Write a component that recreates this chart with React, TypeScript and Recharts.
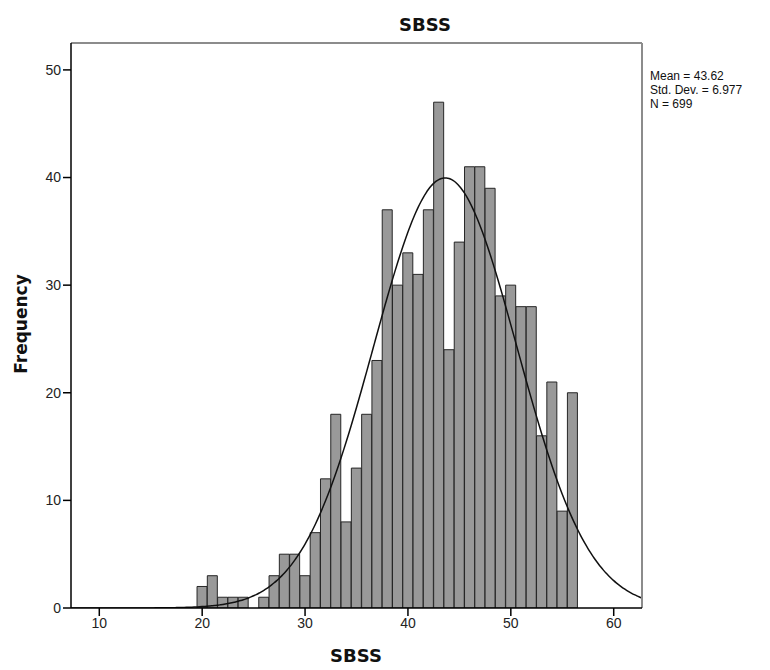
import { Bar, ComposedChart, Line, ReferenceLine, XAxis, YAxis } from "recharts"

// SBSS score bins (width 1) and how many respondents fell in each
const SCORES = [
  20, 21, 22, 23, 24, 25, 26, 27, 28, 29, 30, 31, 32, 33, 34, 35, 36, 37, 38,
  39, 40, 41, 42, 43, 44, 45, 46, 47, 48, 49, 50, 51, 52, 53, 54, 55, 56,
]
const FREQUENCIES = [
  2, 3, 1, 1, 1, 0, 1, 3, 5, 5, 3, 7, 12, 18, 8, 13, 18, 23, 37, 30, 33, 31,
  37, 47, 24, 34, 41, 41, 39, 29, 30, 28, 28, 16, 21, 9, 20,
]

const X_TICKS = [10, 20, 30, 40, 50, 60]
const Y_TICKS = [0, 10, 20, 30, 40, 50]

// summary statistics shown beside the plot; the fitted curve uses them
const MEAN = 43.62
const STD_DEV = 6.977
const N = 699
const BIN_WIDTH = 1

const X_DOMAIN: [number, number] = [7.25, 62.75]
const Y_DOMAIN: [number, number] = [0, 52.5]

const histogram = SCORES.map((score, i) => ({ score, count: FREQUENCIES[i] }))

// expected counts under a normal distribution with the sample mean / sd
const normalFit = (() => {
  const pts: { x: number; expected: number }[] = []
  const step = 0.25
  for (let x = X_DOMAIN[0]; x <= X_DOMAIN[1] + 1e-9; x += step) {
    const z = (x - MEAN) / STD_DEV
    const density = Math.exp(-0.5 * z * z) / (STD_DEV * Math.sqrt(2 * Math.PI))
    pts.push({ x, expected: N * BIN_WIDTH * density })
  }
  return pts
})()

const font = '"Liberation Sans", Arial, sans-serif'
const boldFont = '"DejaVu Sans", "Liberation Sans", sans-serif'
const tickStyle = { fontSize: 14, fill: "#222", fontFamily: font }

export default function App() {
  return (
    <div style={{ position: "absolute", left: 0, top: 0, width: 770, height: 670, background: "#fff" }}>
      <div
        style={{
          position: "absolute",
          left: 385,
          top: 14,
          width: 80,
          textAlign: "center",
          fontFamily: boldFont,
          fontWeight: "bold",
          fontSize: 18,
          lineHeight: "22px",
          color: "#111",
        }}
      >
        SBSS
      </div>

      <ComposedChart
        width={770}
        height={670}
        data={histogram}
        margin={{ top: 43, right: 128, bottom: 0, left: 0 }}
        barCategoryGap={0}
        barGap={0}
      >
        <XAxis
          dataKey="score"
          type="number"
          domain={X_DOMAIN}
          ticks={X_TICKS}
          allowDataOverflow
          height={62}
          tickSize={8}
          tick={tickStyle}
          axisLine={{ stroke: "#000", strokeWidth: 1.5 }}
          tickLine={{ stroke: "#000", strokeWidth: 1.5 }}
        />
        <XAxis
          xAxisId="fit"
          dataKey="x"
          type="number"
          domain={X_DOMAIN}
          allowDataOverflow
          hide
        />
        <YAxis
          type="number"
          domain={Y_DOMAIN}
          ticks={Y_TICKS}
          allowDataOverflow
          width={71}
          tickSize={8}
          tick={tickStyle}
          axisLine={{ stroke: "#000", strokeWidth: 1.5 }}
          tickLine={{ stroke: "#000", strokeWidth: 1.5 }}
        />
        <Bar
          dataKey="count"
          fill="#999999"
          stroke="#262626"
          strokeWidth={1}
          isAnimationActive={false}
        />
        <Line
          xAxisId="fit"
          data={normalFit}
          dataKey="expected"
          type="monotone"
          stroke="#111"
          strokeWidth={1.5}
          dot={false}
          activeDot={false}
          isAnimationActive={false}
        />
        <ReferenceLine y={Y_DOMAIN[1]} stroke="#8c8c8c" strokeWidth={2} />
        <ReferenceLine x={X_DOMAIN[1]} stroke="#8c8c8c" strokeWidth={2} />
      </ComposedChart>

      <div
        style={{
          position: "absolute",
          left: 650,
          top: 69,
          fontFamily: font,
          fontSize: 12,
          lineHeight: "14px",
          color: "#111",
          whiteSpace: "nowrap",
        }}
      >
        <div>Mean = {MEAN.toFixed(2)}</div>
        <div>Std. Dev. = {STD_DEV.toFixed(3)}</div>
        <div>N = {N}</div>
      </div>

      <div
        style={{
          position: "absolute",
          left: 21,
          top: 324,
          transform: "translate(-50%, -50%) rotate(-90deg)",
          fontFamily: boldFont,
          fontWeight: "bold",
          fontSize: 17,
          color: "#111",
          whiteSpace: "nowrap",
        }}
      >
        Frequency
      </div>

      <div
        style={{
          position: "absolute",
          left: 316,
          top: 645,
          width: 80,
          textAlign: "center",
          fontFamily: boldFont,
          fontWeight: "bold",
          fontSize: 18,
          lineHeight: "22px",
          color: "#111",
        }}
      >
        SBSS
      </div>
    </div>
  )
}
